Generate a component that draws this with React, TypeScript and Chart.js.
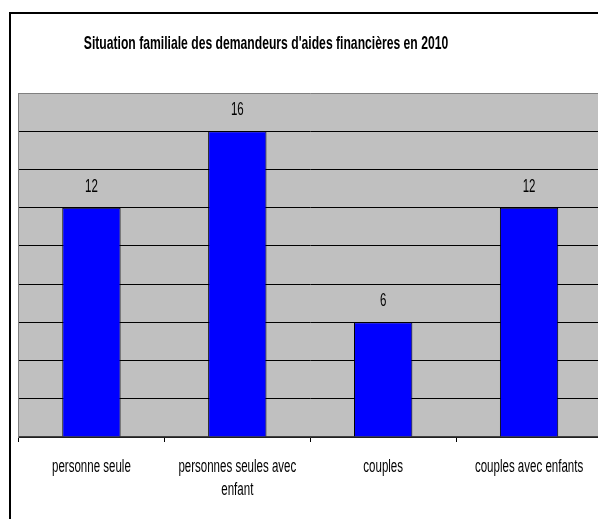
import React, { useEffect, useRef } from "react";
import { Chart, registerables } from "chart.js";

Chart.register(...registerables);

const titleText = "Situation familiale des demandeurs d'aides financières en 2010";
const categories: string[][] = [
  ["personne seule"],
  ["personnes seules avec", "enfant"],
  ["couples"],
  ["couples avec enfants"],
];
const values = [12, 16, 6, 12];
const yMin = 0;
const yMax = 18;
const yStep = 2;

const SX = 0.64;
const FONT = '"Liberation Sans", Arial, sans-serif';

function drawSquished(
  ctx: CanvasRenderingContext2D,
  text: string,
  x: number,
  y: number,
  font: string,
  sx: number
) {
  ctx.save();
  ctx.translate(x, y);
  ctx.scale(sx, 1);
  ctx.font = font;
  ctx.textAlign = "center";
  ctx.textBaseline = "middle";
  ctx.fillStyle = "#000";
  ctx.fillText(text, 0, 0);
  ctx.restore();
}

const decor = {
  id: "decor",
  beforeDraw(chart: any) {
    const { ctx, chartArea } = chart;
    const { left, top, right, bottom } = chartArea;
    ctx.save();
    ctx.fillStyle = "#fff";
    ctx.fillRect(0, 0, chart.width, chart.height);
    ctx.fillStyle = "#C0C0C0";
    ctx.fillRect(left, top, right - left, bottom - top);
    ctx.strokeStyle = "#000";
    ctx.lineWidth = 2;
    ctx.strokeRect(10, 13, chart.width, chart.height);
    ctx.restore();
  },
  afterDraw(chart: any) {
    const { ctx, chartArea } = chart;
    drawSquished(ctx, titleText, 266, 44, `bold 19px ${FONT}`, SX);
    const xs = chart.scales.x;
    categories.forEach((lines, i) => {
      const x = xs.getPixelForValue(i);
      lines.forEach((ln, j) => {
        drawSquished(ctx, ln, x, chartArea.bottom + 30 + j * 23, `18px ${FONT}`, SX);
      });
    });
    const meta = chart.getDatasetMeta(0);
    meta.data.forEach((el: any, i: number) => {
      drawSquished(ctx, String(values[i]), el.x, el.y - 21, `18px ${FONT}`, SX);
    });
  },
};

export default function App() {
  const ref = useRef<HTMLCanvasElement | null>(null);
  useEffect(() => {
    if (!ref.current) return;
    const chart = new Chart(ref.current, {
      type: "bar",
      data: {
        labels: categories.map((c) => c.join(" ")),
        datasets: [
          {
            data: values,
            backgroundColor: "#0000FF",
            borderColor: "#000",
            borderWidth: 1,
            categoryPercentage: 1,
            barPercentage: 0.4,
          },
        ],
      },
      options: {
        animation: false,
        responsive: true,
        maintainAspectRatio: false,
        layout: { padding: { top: 93, left: 18.5, right: 18, bottom: 98 } },
        plugins: { legend: { display: false }, title: { display: false }, tooltip: { enabled: false } },
        scales: {
          x: {
            ticks: { display: false },
            grid: { offset: true, drawOnChartArea: false, drawTicks: true, tickLength: 5, color: "#000" },
            border: { display: true, color: "#404040", width: 1.5 },
          },
          y: {
            min: yMin,
            max: yMax,
            ticks: { display: false, stepSize: yStep },
            grid: {
              drawTicks: false,
              color: (c: any) => (c.tick && c.tick.value === yMax ? "#808080" : "#000"),
            },
            border: { display: true, color: "#808080" },
          },
        },
      },
      plugins: [decor],
    });
    return () => chart.destroy();
  }, []);
  return (
    <div style={{ position: "fixed", left: 0, top: 0, width: 598, height: 519, overflow: "hidden", background: "#fff" }}>
      <div style={{ position: "absolute", left: 0, top: 0, width: 620, height: 540 }}>
        <canvas ref={ref} />
      </div>
    </div>
  );
}
